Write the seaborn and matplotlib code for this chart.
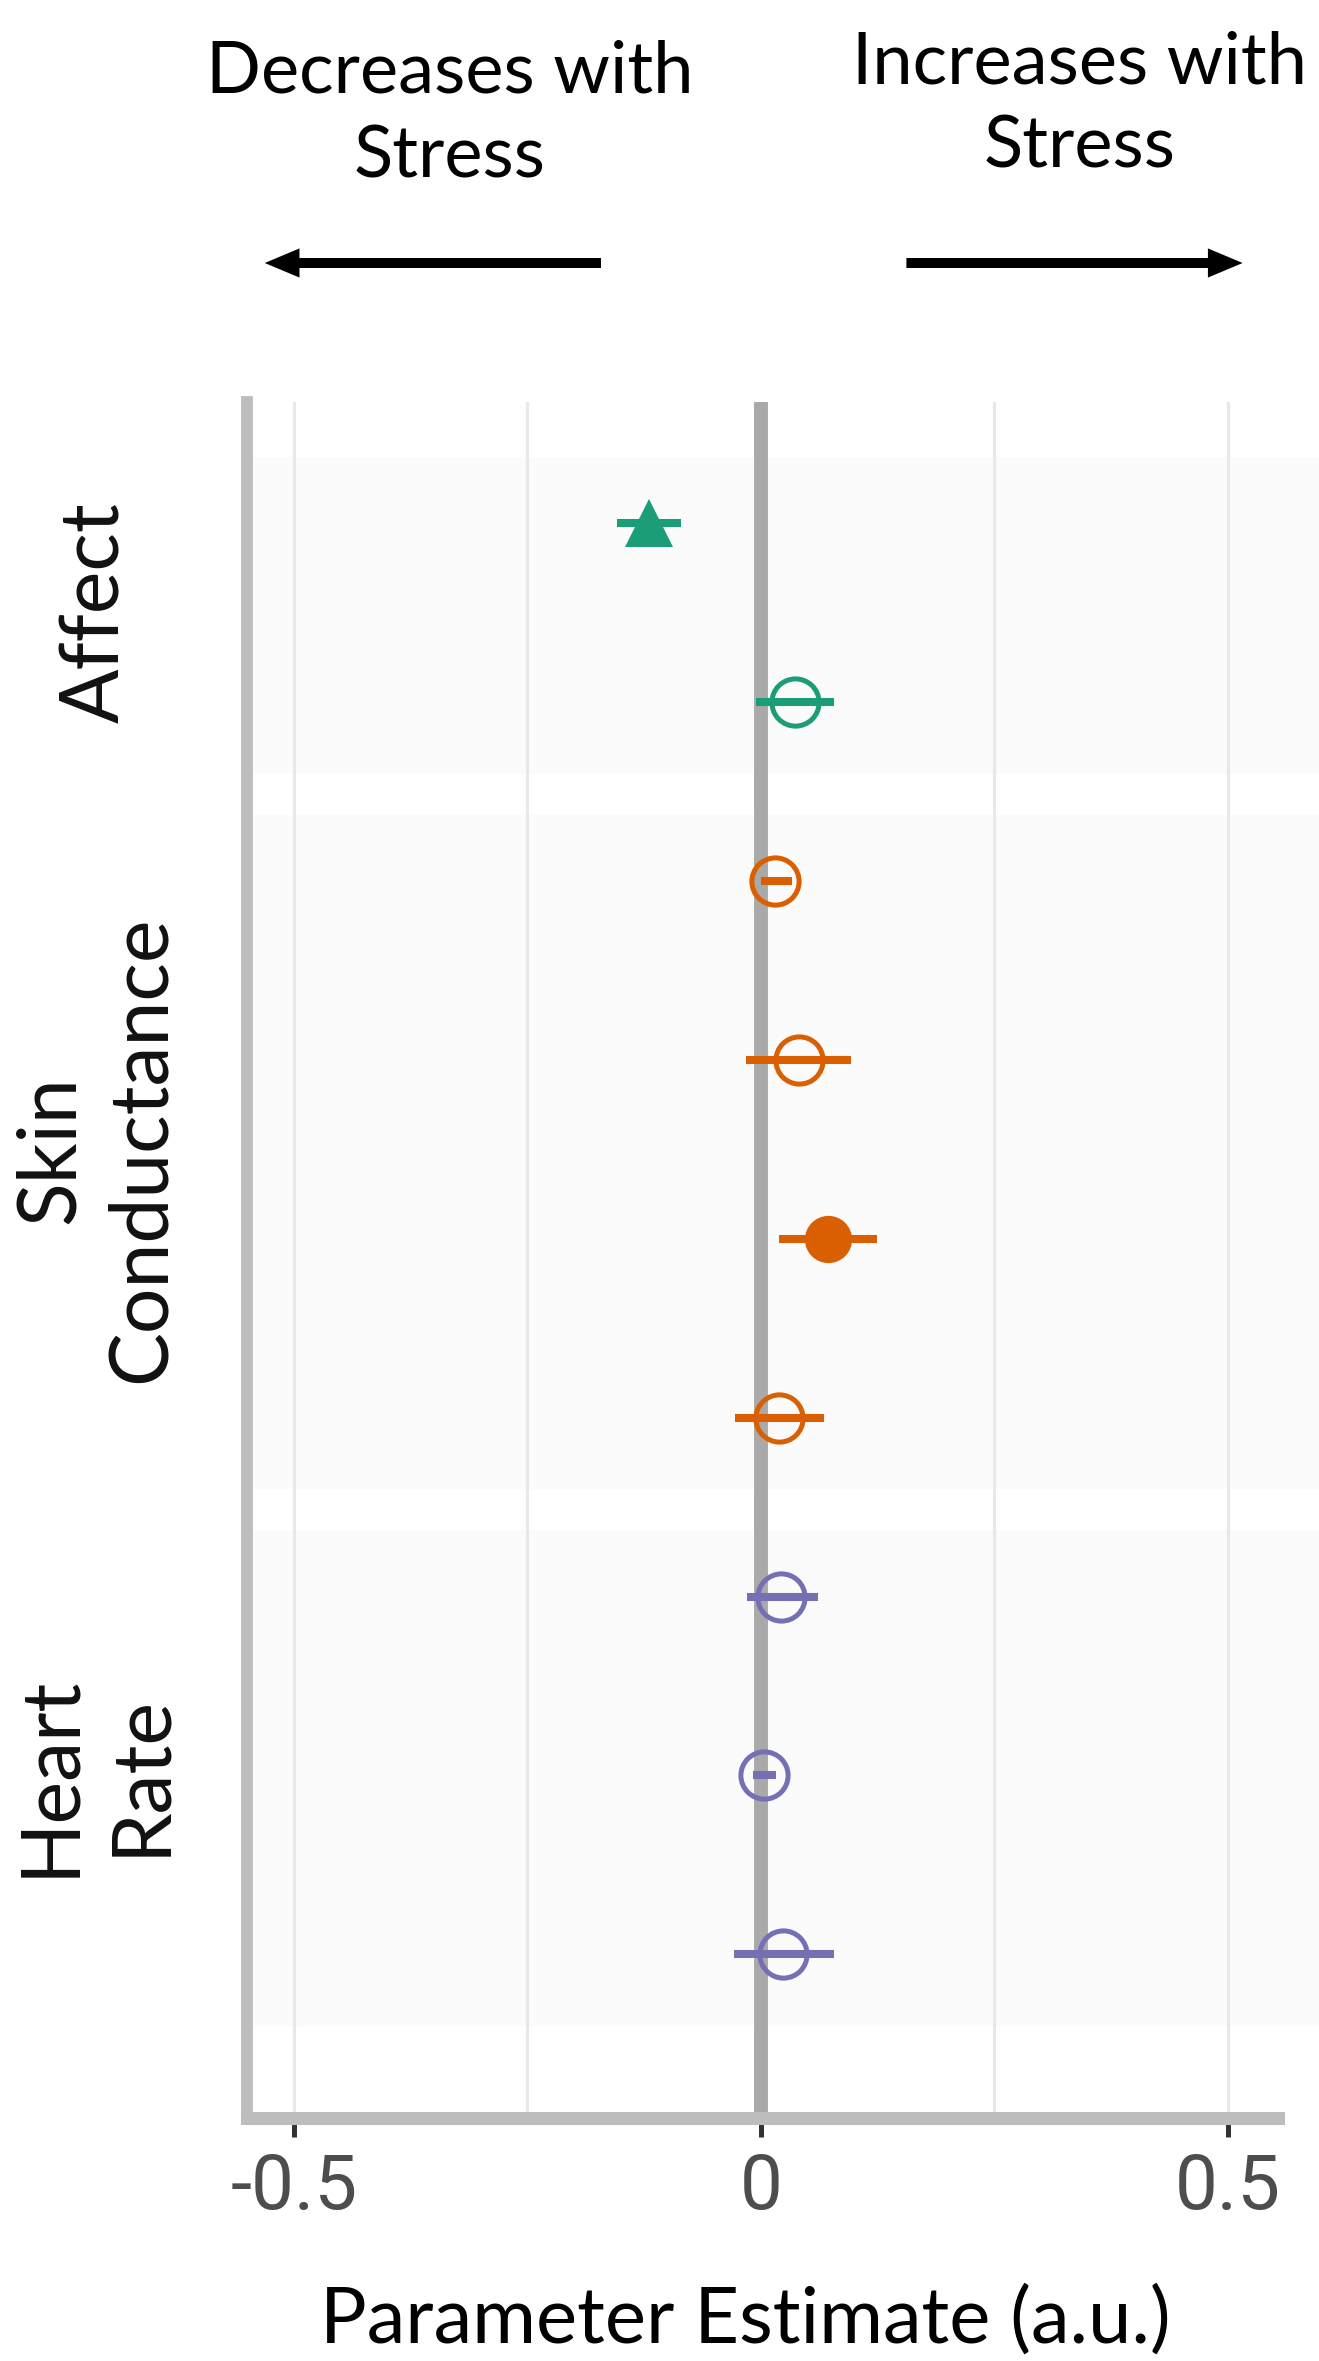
import matplotlib
matplotlib.use('Agg')
import matplotlib.pyplot as plt
import matplotlib.transforms as mtransforms
from matplotlib import font_manager
import seaborn as sns
import numpy as np

# ---------------- data ----------------
GROUP_LABELS = ['Affect', 'Skin\nConductance', 'Heart\nRate']
GROUP_IDX = [0, 0, 1, 1, 1, 1, 2, 2, 2]
ESTIMATE = [-0.120, 0.037, 0.015, 0.041, 0.072, 0.020, 0.022, 0.004, 0.024]
CI_LOW = [-0.154, -0.005, 0.000, -0.016, 0.020, -0.028, -0.015, -0.008, -0.029]
CI_HIGH = [-0.085, 0.078, 0.033, 0.097, 0.124, 0.068, 0.061, 0.016, 0.078]
SIGNIF = [True, False, False, False, True, False, False, False, False]
SHAPES = ['^', 'o', 'o', 'o', 'o', 'o', 'o', 'o', 'o']

XTICKS = [-0.5, 0, 0.5]
XTICK_LABELS = ['-0.5', '0', '0.5']
GRID_X = [-0.5, -0.25, 0.25, 0.5]

# ---------------- style ----------------
sns.set_theme(style='white')


def pick(*names):
    have = {f.name for f in font_manager.fontManager.ttflist}
    return [n for n in names if n in have] + ['DejaVu Sans']


TEXT_FONT = pick('Lato', 'Open Sans')
NUM_FONT = pick('Roboto', 'Liberation Sans')
plt.rcParams['font.family'] = TEXT_FONT

palette = sns.color_palette('Dark2', 3)

W, H = 1319, 2361
fig = plt.figure(figsize=(W / 100, H / 100), dpi=100, facecolor='white')
ax = fig.add_axes([247 / W, (H - 2118) / H, 1 - 247 / W, (2118 - 402) / H])
ax.set_facecolor('white')

rows = np.arange(1, len(ESTIMATE) + 1)
ax.set_xlim(-0.55, -0.55 + (W - 247) / 934)
ax.set_ylim(9.915, 0.321)

# group bands (very faint)
for g in range(len(GROUP_LABELS)):
    r = rows[np.array(GROUP_IDX) == g]
    ax.axhspan(r.min() - 0.37, r.max() + 0.4, color='#fbfbfb', lw=0, zorder=0)

# grid + zero line
for gx in GRID_X:
    ax.axvline(gx, color='#e8e8e8', lw=2.2, zorder=1)
ax.axvline(0, color='#a9a9a9', lw=10, zorder=2)

# estimates with CIs
for i, row in enumerate(rows):
    c = palette[GROUP_IDX[i]]
    ax.hlines(row, CI_LOW[i], CI_HIGH[i], color=c, lw=5.8, zorder=3)
    if SIGNIF[i]:
        ax.plot(ESTIMATE[i], row, marker=SHAPES[i], ms=34, mfc=c, mec=c,
                mew=0, ls='none', zorder=4)
    else:
        ax.plot(ESTIMATE[i], row, marker=SHAPES[i], ms=34, mfc='none', mec=c,
                mew=3.6, ls='none', zorder=4)

# axes look
sns.despine(ax=ax, top=True, right=True)
ax.spines['left'].set_color('#bdbdbd')
ax.spines['left'].set_linewidth(8.5)
ax.spines['bottom'].set_color('#bdbdbd')
ax.spines['bottom'].set_linewidth(9.4)
ax.spines['bottom'].set_bounds(-0.55, 0.554)
ax.set_yticks([])
ax.set_xticks(XTICKS, XTICK_LABELS)
ax.tick_params(axis='x', bottom=True, length=13.7, width=3.6, color='#333333',
               direction='out', pad=11, labelsize=55, labelcolor='#4d4d4d')
for lab in ax.get_xticklabels():
    lab.set_fontfamily(NUM_FONT)

# group labels on the left
trans = mtransforms.blended_transform_factory(fig.transFigure, ax.transData)
for g, name in enumerate(GROUP_LABELS):
    r = rows[np.array(GROUP_IDX) == g]
    ax.text(96 / W, r.mean(), name, transform=trans, rotation=90, ha='center',
            va='center', multialignment='center', fontsize=58, linespacing=1.28,
            color='#111111')

# direction annotations (baseline = last line)
fig.text(450 / W, (H - 177) / H, 'Decreases with\nStress', ha='center', va='baseline',
         fontsize=52, linespacing=1.36, color='black')
fig.text(1080 / W, (H - 168) / H, 'Increases with\nStress', ha='center', va='baseline',
         fontsize=52, linespacing=1.36, color='black')
arrow_y = (H - 263) / H
for tail, tip in [(-0.171, -0.531), (0.156, 0.516)]:
    ax.annotate('', xy=(tip, arrow_y), xytext=(tail, arrow_y),
                xycoords=('data', 'figure fraction'),
                textcoords=('data', 'figure fraction'),
                arrowprops=dict(arrowstyle='simple,head_length=1.25,head_width=1.05,tail_width=0.36',
                                mutation_scale=20, facecolor='black', edgecolor='none',
                                lw=0, shrinkA=0, shrinkB=0),
                annotation_clip=False)

fig.text(745 / W, (H - 2343) / H, 'Parameter Estimate (a.u.)', ha='center',
         va='baseline', fontsize=56, color='black')

plt.savefig('out.png', dpi=100, facecolor='white')
plt.close()
